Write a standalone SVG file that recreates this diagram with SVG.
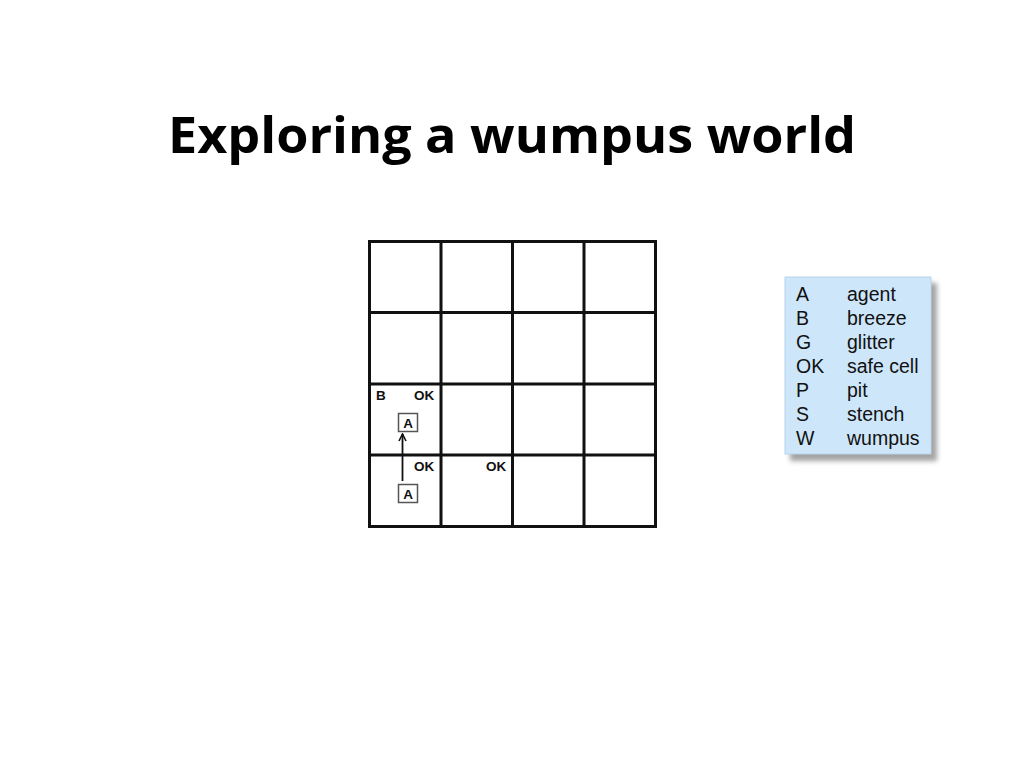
<svg xmlns="http://www.w3.org/2000/svg" width="1024" height="768" viewBox="0 0 1024 768">
<style>
.title{font-family:"Open Sans","Liberation Sans",sans-serif;font-weight:700;font-size:50px;fill:#000}
.cell{font-family:"Liberation Sans",Arial,sans-serif;font-weight:700;font-size:13.5px;fill:#111}
.leg{font-family:"Liberation Sans",Arial,sans-serif;font-size:19.5px;fill:#111}
.grid{stroke:#111;stroke-width:3;fill:none}
.abox{fill:#fff;stroke:#555;stroke-width:1.5}
</style>
<defs>
<marker id="chev" markerWidth="10" markerHeight="10" refX="9" refY="5" orient="auto" markerUnits="userSpaceOnUse" viewBox="0 0 10 10">
<path d="M2,1.5 L9,5 L2,8.5" fill="none" stroke="#111" stroke-width="1.6"/>
</marker>
<filter id="sh" x="-20%" y="-20%" width="140%" height="140%">
<feGaussianBlur stdDeviation="2.5"/>
</filter>
</defs>
<rect width="1024" height="768" fill="#fff"/>
<text class="title" x="168" y="153" textLength="688" lengthAdjust="spacingAndGlyphs">Exploring a wumpus world</text>
<g id="grid">
<rect class="grid" x="369.5" y="241.5" width="286" height="285"/>
<line class="grid" x1="441" y1="241" x2="441" y2="527"/>
<line class="grid" x1="512.5" y1="241" x2="512.5" y2="527"/>
<line class="grid" x1="584" y1="241" x2="584" y2="527"/>
<line class="grid" x1="369" y1="312.5" x2="656" y2="312.5"/>
<line class="grid" x1="369" y1="384" x2="656" y2="384"/>
<line class="grid" x1="369" y1="455" x2="656" y2="455"/>
</g>
<g id="cell-1-2">
<text class="cell" x="376" y="400">B</text>
<text class="cell" x="414" y="400">OK</text>
</g>
<g id="agent-1-2">
<rect class="abox" x="398.5" y="413.5" width="19" height="18"/>
<text class="cell" x="408" y="427.5" text-anchor="middle">A</text>
</g>
<g id="cell-1-1">
<text class="cell" x="414" y="471">OK</text>
</g>
<g id="agent-1-1">
<rect class="abox" x="398.5" y="484.5" width="19" height="18"/>
<text class="cell" x="408" y="498.5" text-anchor="middle">A</text>
</g>
<g id="cell-2-1">
<text class="cell" x="486" y="471">OK</text>
</g>
<g id="connectors">
<line x1="402.5" y1="481" x2="402.5" y2="434" stroke="#111" stroke-width="1.8" marker-end="url(#chev)"/>
</g>
<g id="legend">
<rect x="790" y="283" width="147" height="178" fill="#666" opacity="0.6" filter="url(#sh)"/>
<rect x="785" y="277" width="146" height="177" fill="#cde6fa" stroke="#b8d4ec" stroke-width="1"/>
<text class="leg" x="796" y="301">A</text><text class="leg" x="847" y="301">agent</text>
<text class="leg" x="796" y="325">B</text><text class="leg" x="847" y="325">breeze</text>
<text class="leg" x="796" y="349">G</text><text class="leg" x="847" y="349">glitter</text>
<text class="leg" x="796" y="373">OK</text><text class="leg" x="847" y="373">safe cell</text>
<text class="leg" x="796" y="397">P</text><text class="leg" x="847" y="397">pit</text>
<text class="leg" x="796" y="421">S</text><text class="leg" x="847" y="421">stench</text>
<text class="leg" x="796" y="445">W</text><text class="leg" x="847" y="445">wumpus</text>
</g>
</svg>
